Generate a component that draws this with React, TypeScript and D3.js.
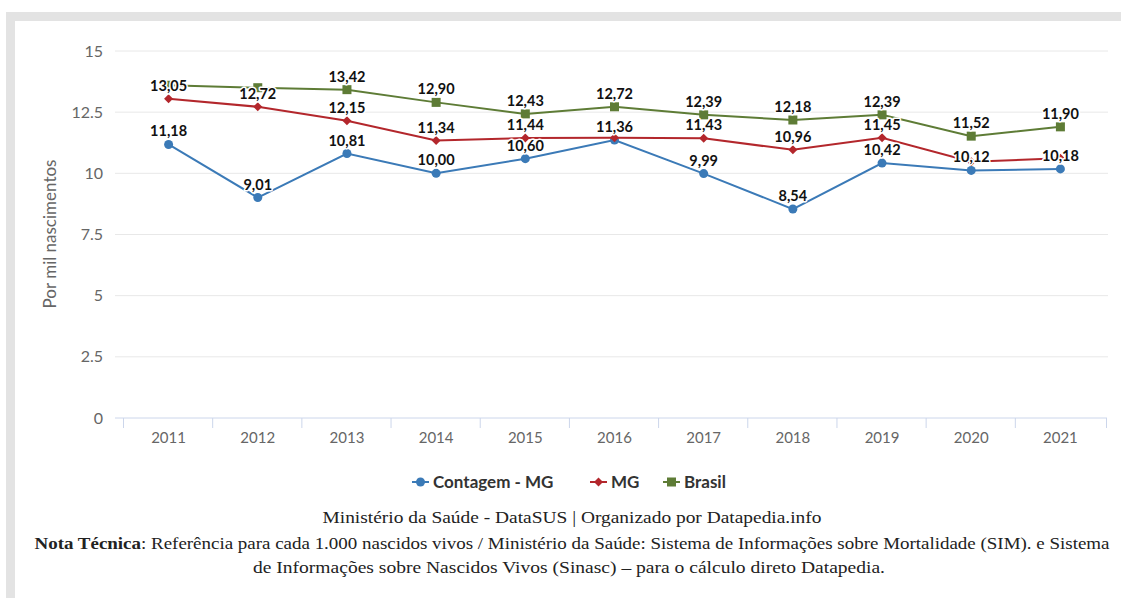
import React from "react";
import { scaleLinear, scaleBand, line } from "d3";

const years = ["2011", "2012", "2013", "2014", "2015", "2016", "2017", "2018", "2019", "2020", "2021"];
const contagem = [11.18, 9.01, 10.81, 10.0, 10.6, 11.36, 9.99, 8.54, 10.42, 10.12, 10.18];
const mg = [13.05, 12.72, 12.15, 11.34, 11.44, 11.45, 11.43, 10.96, 11.45, 10.47, 10.62];
const brasil = [13.6, 13.5, 13.42, 12.9, 12.43, 12.72, 12.39, 12.18, 12.39, 11.52, 11.9];
const yTicks = [0, 2.5, 5, 7.5, 10, 12.5, 15];
// labels the chart hid because they overlapped
const mgHidden = ["2016", "2020", "2021"];
const brasilHidden = ["2011", "2012"];

const W = 1121;
const H = 598;
const margin = { top: 51, bottom: 418, left: 124, right: 1105 };

const fmt = (v: number) => v.toFixed(2).replace(".", ",");

const App: React.FC = () => {
  const xScale = scaleBand<string>().domain(years).range([margin.left, margin.right]);
  const yScale = scaleLinear().domain([0, 15]).range([margin.bottom, margin.top]);
  const cx = (y: string) => (xScale(y) as number) + xScale.bandwidth() / 2;

  const series = [
    { name: "Contagem - MG", values: contagem, color: "#3b7ab7", shape: "circle", hidden: [] as string[] },
    { name: "MG", values: mg, color: "#b3272c", shape: "diamond", hidden: mgHidden },
    { name: "Brasil", values: brasil, color: "#5e7c36", shape: "square", hidden: brasilHidden },
  ];

  const marker = (shape: string, x: number, y: number, color: string, k: string) => {
    if (shape === "circle") return <circle key={k} cx={x} cy={y} r={4.5} fill={color} />;
    if (shape === "diamond")
      return <path key={k} d={`M${x},${y - 4.5}L${x + 4.5},${y}L${x},${y + 4.5}L${x - 4.5},${y}Z`} fill={color} />;
    return <rect key={k} x={x - 4.5} y={y - 4.5} width={9} height={9} fill={color} />;
  };

  const lineGen = line<number>()
    .x((_, i) => cx(years[i]))
    .y((d) => yScale(d));

  const legendX = [412, 590, 663];
  const tickFont = "Lato, 'Noto Sans', sans-serif";

  return (
    <div style={{ position: "absolute", left: 0, top: 0 }}>
      <svg width={W} height={H} style={{ display: "block", background: "#fff" }}>
        <rect x={6} y={12} width={W - 6} height={9} fill="#e3e3e3" />
        <rect x={6} y={12} width={9} height={H - 12} fill="#e3e3e3" />

        {yTicks.map((t) => (
          <g key={`g${t}`}>
            {t > 0 && (
              <line x1={115} x2={1108} y1={yScale(t)} y2={yScale(t)} stroke="#e8e8e8" strokeWidth={1} />
            )}
            <text
              x={103}
              y={yScale(t) + 5.5}
              textAnchor="end"
              fontFamily={tickFont}
              fontSize={16}
              fill="#666"
            >
              {String(t)}
            </text>
          </g>
        ))}

        <line x1={115} x2={1107} y1={margin.bottom} y2={margin.bottom} stroke="#ccd6eb" strokeWidth={1} />
        {years.map((y) => (
          <line
            key={`t${y}`}
            x1={(xScale(y) as number) - 0.5}
            x2={(xScale(y) as number) - 0.5}
            y1={margin.bottom}
            y2={margin.bottom + 10}
            stroke="#ccd6eb"
          />
        ))}
        <line x1={margin.right + 1.5} x2={margin.right + 1.5} y1={margin.bottom} y2={margin.bottom + 10} stroke="#ccd6eb" />
        {years.map((y) => (
          <text key={`xl${y}`} x={cx(y)} y={443} textAnchor="middle" fontFamily={tickFont} fontSize={15} fill="#666">
            {y}
          </text>
        ))}

        <text
          transform="translate(56,234) rotate(-90)"
          textAnchor="middle"
          fontFamily={tickFont}
          fontSize={17}
          fill="#666"
        >
          Por mil nascimentos
        </text>

        {series.map((s) => (
          <g key={s.name}>
            <path d={lineGen(s.values) as string} fill="none" stroke={s.color} strokeWidth={2} />
            {s.values.map((v, i) => marker(s.shape, cx(years[i]), yScale(v), s.color, `${s.name}${i}`))}
          </g>
        ))}

        {series.map((s) =>
          s.values.map((v, i) =>
            s.hidden.includes(years[i]) ? null : (
              <text
                key={`dl${s.name}${i}`}
                x={cx(years[i])}
                y={yScale(v) - 8}
                textAnchor="middle"
                fontFamily={tickFont}
                fontWeight={700}
                fontSize={14.5}
                fill="#111"
                stroke="#fff"
                strokeWidth={3}
                strokeLinejoin="round"
                style={{ paintOrder: "stroke" }}
              >
                {fmt(v)}
              </text>
            )
          )
        )}

        {series.map((s, i) => (
          <g key={`lg${s.name}`} transform={`translate(${legendX[i]},482)`}>
            <line x1={0} x2={17} y1={0} y2={0} stroke={s.color} strokeWidth={2} />
            {marker(s.shape, 8.5, 0, s.color, `lm${i}`)}
            <text x={21} y={6} fontFamily={tickFont} fontWeight={700} fontSize={17} fill="#333">
              {s.name}
            </text>
          </g>
        ))}

        <g fontFamily="'Liberation Serif', 'DejaVu Serif', serif" fontSize={17} fill="#222">
          <text x={572} y={523} textAnchor="middle" textLength={499} lengthAdjust="spacingAndGlyphs">
            Ministério da Saúde - DataSUS | Organizado por Datapedia.info
          </text>
          <text x={572} y={549} textAnchor="middle" textLength={1075} lengthAdjust="spacingAndGlyphs">
            <tspan fontWeight={700}>Nota Técnica</tspan>: Referência para cada 1.000 nascidos vivos / Ministério da
            Saúde: Sistema de Informações sobre Mortalidade (SIM). e Sistema
          </text>
          <text x={569} y={573} textAnchor="middle" textLength={632} lengthAdjust="spacingAndGlyphs">
            de Informações sobre Nascidos Vivos (Sinasc) – para o cálculo direto Datapedia.
          </text>
        </g>
      </svg>
    </div>
  );
};

export default App;
